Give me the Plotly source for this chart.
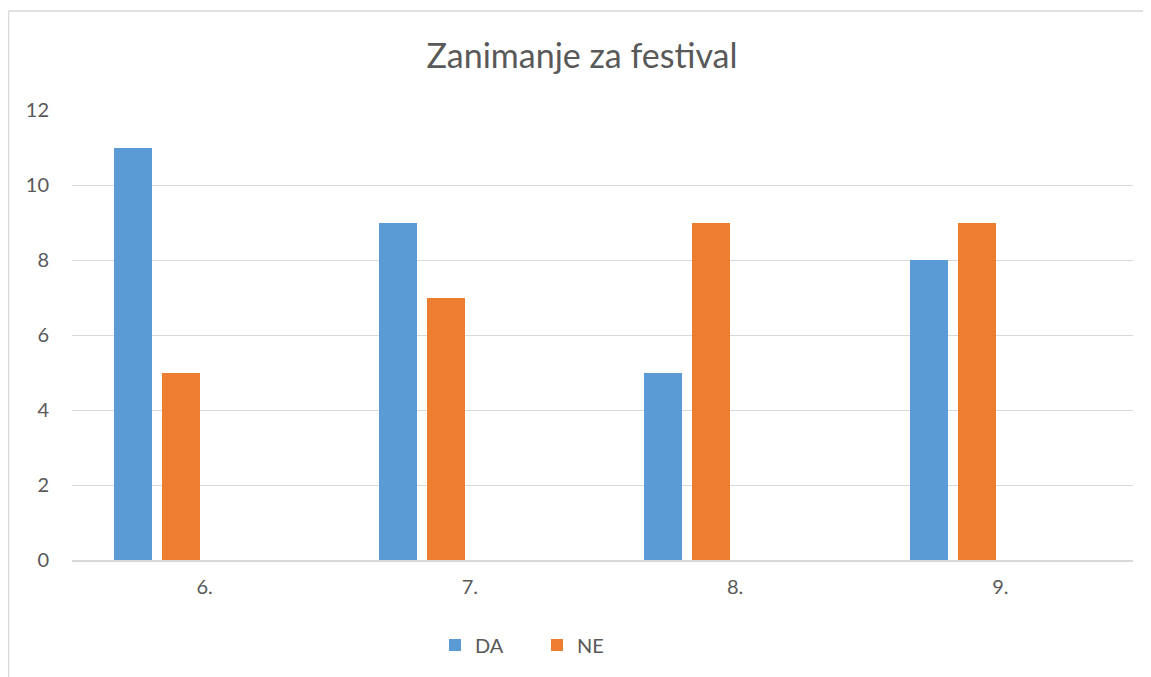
import plotly.graph_objects as go

categories = ["6.", "7.", "8.", "9."]
da_values = [11, 9, 5, 8]
ne_values = [5, 7, 9, 9]
y_ticks = [0, 2, 4, 6, 8, 10, 12]

FONT = "Lato, 'Open Sans', sans-serif"
TXT = "#595959"

# page body has an 8px margin, so the figure is laid out 8px smaller
W, H = 1143, 669
L, R, T, B = 64, 18, 102, 117
PW, PH = W - L - R, H - T - B

fig = go.Figure()
fig.add_trace(go.Bar(name="DA", x=categories, y=da_values, marker_color="#5b9bd5",
                     width=0.143, offset=-0.342, marker_line_width=0))
fig.add_trace(go.Bar(name="NE", x=categories, y=ne_values, marker_color="#ed7d31",
                     width=0.143, offset=-0.161, marker_line_width=0))

fig.update_layout(
    width=W, height=H,
    margin=dict(l=L, r=R, t=T, b=B),
    paper_bgcolor="white", plot_bgcolor="white",
    font=dict(family=FONT, color=TXT, size=19),
    title=dict(text="Zanimanje za festival", x=574 / W, xanchor="center",
               y=1 - 48 / H, yanchor="middle",
               font=dict(size=34, color=TXT, family=FONT)),
    showlegend=True,
    legend=dict(orientation="h", x=(383 - 20) / PW, xanchor="left", y=-85 / PH, yanchor="middle",
                font=dict(size=20, color=TXT), entrywidth=57, entrywidthmode="pixels",
                itemwidth=30),
    bargap=0,
    shapes=[
        dict(type="line", xref="paper", yref="paper",
             x0=(0.5 - L) / PW, x1=(0.5 - L) / PW,
             y0=(PH + T - 3) / PH, y1=-(B + 20) / PH,
             line=dict(color="#d9d9d9", width=1.5)),
        dict(type="line", xref="paper", yref="paper",
             x0=(0.5 - L) / PW, x1=(W + 20 - L) / PW,
             y0=(PH + T - 3) / PH, y1=(PH + T - 3) / PH,
             line=dict(color="#d9d9d9", width=1.5)),
    ],
)
fig.update_xaxes(showgrid=False, showline=True, linecolor="#d9d9d9", linewidth=1.5,
                 ticks="", tickfont=dict(size=20, color=TXT), ticklabelstandoff=8)
fig.update_yaxes(range=[0, 12], tickvals=y_ticks, showgrid=True, gridcolor="#d9d9d9",
                 gridwidth=1.2, zeroline=False, showline=False, ticks="",
                 tickfont=dict(size=20, color=TXT), ticklabelstandoff=22)

fig.write_html("out.html")
